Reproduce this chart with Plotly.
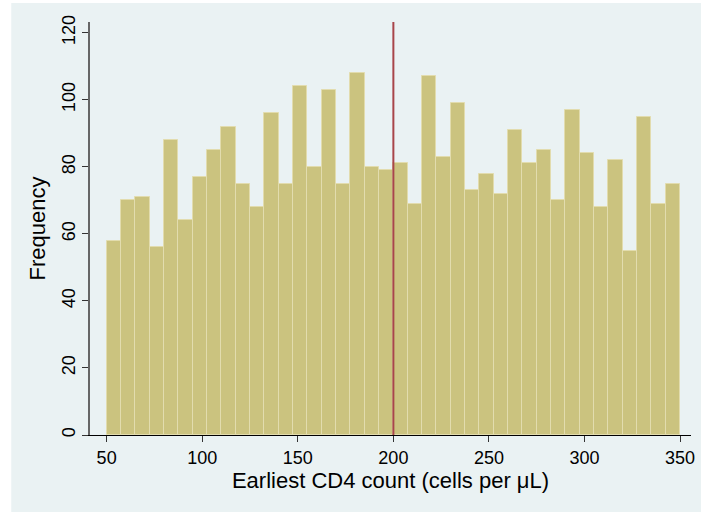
import plotly.graph_objects as go

bin_start = 50
bin_width = 7.5
counts = [58, 70, 71, 56, 88, 64, 77, 85, 92, 75,
          68, 96, 75, 104, 80, 103, 75, 108, 80, 79,
          81, 69, 107, 83, 99, 73, 78, 72, 91, 81,
          85, 70, 97, 84, 68, 82, 55, 95, 69, 75]
x_ticks = [50, 100, 150, 200, 250, 300, 350]
y_ticks = [0, 20, 40, 60, 80, 100, 120]
ref_line = 200

centers = [bin_start + bin_width * (i + 0.5) for i in range(len(counts))]

fig = go.Figure()
fig.add_trace(go.Bar(
    x=centers, y=counts, width=bin_width,
    marker=dict(color="#CBC37F", line=dict(color="#E2DCAE", width=1)),
    hoverinfo="x+y",
))
fig.add_shape(type="line", xref="x", yref="paper", x0=ref_line, x1=ref_line,
              y0=0, y1=1, line=dict(color="#A8454A", width=2), layer="above")
# graph region background
fig.add_shape(type="rect", xref="paper", yref="paper", x0=-0.131, x1=1.02,
              y0=-0.19, y1=1.046, fillcolor="#EAF2F3", line=dict(width=0),
              layer="below")

fig.update_layout(
    width=701, height=512,
    margin=dict(l=90, r=6, t=22, b=77),
    paper_bgcolor="white", plot_bgcolor="white",
    font=dict(family="Arial", size=18, color="black"),
    showlegend=False, bargap=0,
    xaxis=dict(range=[41.3, 355.7], tickvals=x_ticks, ticks="outside", ticklen=6,
               tickcolor="#333", showgrid=False, zeroline=False, showline=True,
               linecolor="black", linewidth=1,
               title=dict(text="Earliest CD4 count (cells per μL)", standoff=5)),
    yaxis=dict(range=[0, 123.2], tickvals=y_ticks, ticks="outside", ticklen=6,
               tickcolor="#333", tickangle=-90, showgrid=True, gridcolor="#EAF2F3",
               zeroline=False, showline=True, linecolor="#666", linewidth=1.5,
               title=dict(text="Frequency", standoff=7)),
)
fig.write_html("out.html", config={"displayModeBar": False},
               post_script="document.body.style.margin='0';")
